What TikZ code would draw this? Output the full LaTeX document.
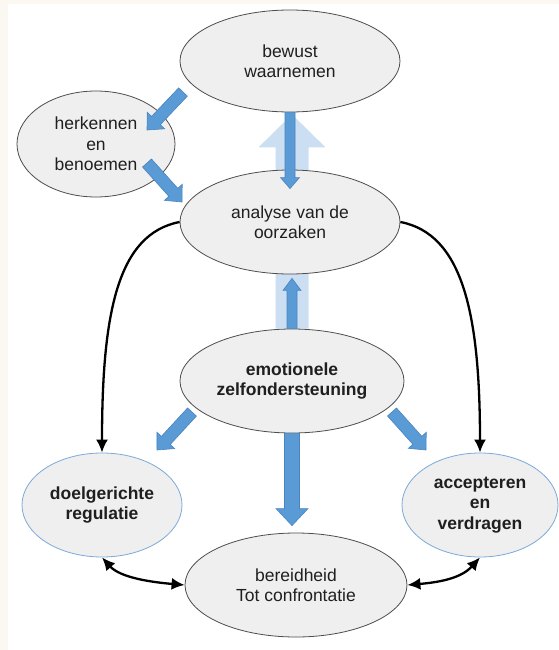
\documentclass[tikz,border=0pt]{standalone}
\usepackage{fontspec}
\setmainfont{Liberation Sans}
\usetikzlibrary{shapes.geometric,calc,arrows.meta,backgrounds}

\definecolor{ellfill}{HTML}{EFEFEF}
\definecolor{ellline}{HTML}{4D4D4D}
\definecolor{goalline}{HTML}{7BAAD8}
\definecolor{bluefill}{HTML}{5B9BD5}
\definecolor{blueline}{HTML}{4A84C0}
\definecolor{paleblue}{HTML}{CCDFF2}
\definecolor{cream}{HTML}{FBF8F1}

% block arrow: style, from, to, shaft half width, head half width, head length
\newcommand\blockarrow[6]{%
  \coordinate (ba-h) at ($(#3)!#6!(#2)$);
  \path[#1] ($(#2)!#4!90:(#3)$) -- ($(ba-h)!#4!90:(#3)$) -- ($(ba-h)!#5!90:(#3)$) -- (#3)
    -- ($(ba-h)!#5!-90:(#3)$) -- ($(ba-h)!#4!-90:(#3)$) -- ($(#2)!#4!-90:(#3)$) -- cycle;
}

\tikzset{
  txt/.style={font=\fontsize{17.5}{20.5}\selectfont},
  ell/.style={ellipse, draw=ellline, fill=ellfill, line width=0.8pt, inner sep=0pt,
              align=center, text=black!88, txt},
  goal/.style={ell, draw=goalline, font=\fontsize{17.5}{20.5}\selectfont\bfseries},
  bluearrow/.style={fill=bluefill, draw=blueline, line width=0.6pt, line join=miter},
  palearrow/.style={fill=paleblue},
  curve/.style={line width=2.3pt, -{Latex[length=13pt,width=12pt]}},
  twoway/.style={line width=2.3pt, {Latex[length=13pt,width=12pt]}-{Latex[length=13pt,width=12pt]}},
}

\begin{document}
\begin{tikzpicture}[x=1pt,y=-1pt]
  \useasboundingbox (0,0) rectangle (559,650);

  % ellipses
  \node[ell, minimum width=220pt, minimum height=102pt] (bw) at (290,61) {bewust\\waarnemen};
  \node[ell, minimum width=158pt, minimum height=106pt] (hk) at (96,144) {herkennen\\en\\benoemen};
  \node[ell, minimum width=220pt, minimum height=104pt] (an) at (290,222) {analyse van de\\oorzaken};
  \node[ell, minimum width=224pt, minimum height=104pt, font=\fontsize{17.5}{20.5}\selectfont\bfseries] (em) at (292,381) {emotionele\\zelfondersteuning};
  \node[goal, minimum width=160pt, minimum height=104pt] (dr) at (102,505) {doelgerichte\\regulatie};
  \node[goal, minimum width=156pt, minimum height=104pt] (av) at (480,505) {accepteren\\en\\verdragen};
  \node[ell, minimum width=222pt, minimum height=104pt] (bt) at (296,585) {bereidheid\\Tot confrontatie};

  % page ground and the wide pale arrow running behind the central column
  \begin{pgfonlayer}{background}
    \fill[white] (0,0) rectangle (559,650);
    \fill[cream] (0,0) rectangle (8,650);
    \fill[cream] (0,0) rectangle (559,4);
    \blockarrow{palearrow}{em.north}{$(em.north |- bw.south)+(0,2)$}{16.5pt}{33.5pt}{33pt}
  \end{pgfonlayer}

  % free ends of the diagonal block arrows
  \coordinate (bwhk-a) at (183,92);
  \coordinate (bwhk-b) at (147,130);
  \coordinate (hkan-a) at (147,163);
  \coordinate (hkan-b) at (182,202);
  \coordinate (emdr-a) at (192,412);
  \coordinate (emdr-b) at (157,450);
  \coordinate (emav-a) at (392,412);
  \coordinate (emav-b) at (426,450);

  % blue block arrows
  \blockarrow{bluearrow}{bw.south}{$(bw.south |- an.north)+(0,19)$}{5pt}{9.5pt}{11pt}
  \blockarrow{bluearrow}{em.north}{$(em.north |- an.south)+(0,4)$}{5pt}{9pt}{12pt}
  \blockarrow{bluearrow}{em.south}{$(em.south |- bt.north)+(0,-7)$}{7.5pt}{16pt}{17pt}
  \blockarrow{bluearrow}{bwhk-a}{bwhk-b}{6pt}{12pt}{13pt}
  \blockarrow{bluearrow}{hkan-a}{hkan-b}{6pt}{12pt}{13pt}
  \blockarrow{bluearrow}{emdr-a}{emdr-b}{6pt}{12pt}{13pt}
  \blockarrow{bluearrow}{emav-a}{emav-b}{6pt}{12pt}{13pt}

  % black connectors
  \draw[curve] (an.west) .. controls +(-62,12) and +(0,-140) .. (dr.north);
  \draw[curve] (an.east) .. controls +(62,12) and +(0,-140) .. (av.north);
  \draw[twoway] (dr.south) .. controls +(18,20) and +(-35,-3) .. (bt.west);
  \draw[twoway] (bt.east) .. controls +(35,-3) and +(-18,20) .. (av.south);
\end{tikzpicture}
\end{document}
